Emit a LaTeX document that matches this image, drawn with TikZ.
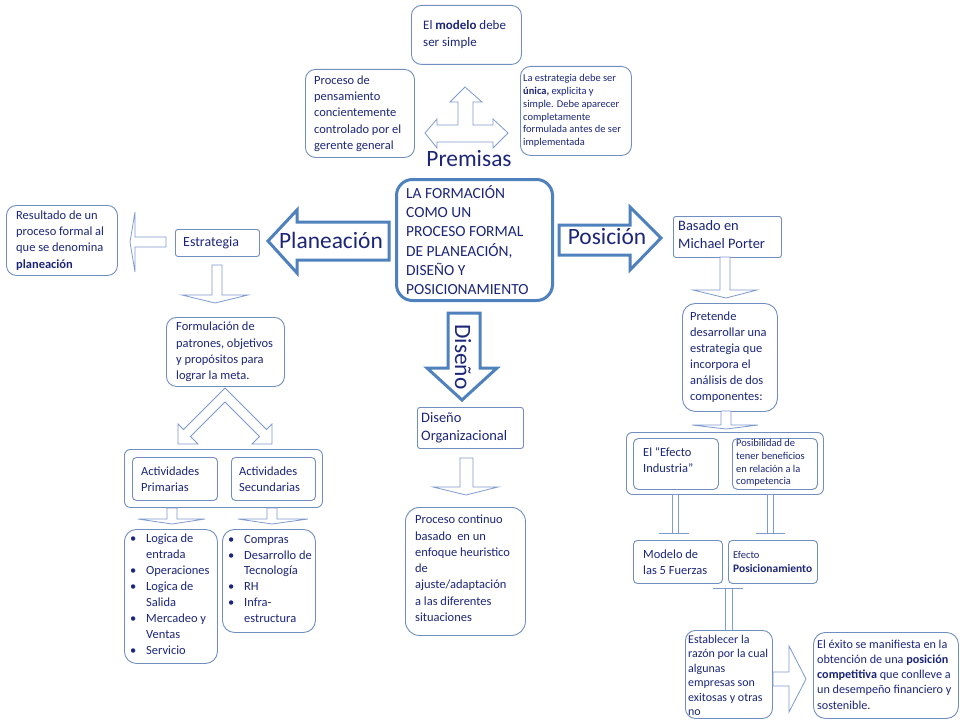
\documentclass[tikz,border=0pt]{standalone}
\usepackage{fontspec}
\setmainfont{Carlito}
\definecolor{navy}{RGB}{28,38,120}
\definecolor{boxc}{RGB}{112,142,192}
\definecolor{bigc}{RGB}{79,129,189}
\definecolor{arrc}{RGB}{125,155,205}
\newcommand\lbul{\makebox[16bp][l]{\textbullet}}
\newcommand\lind{\hspace*{16bp}}
\tikzset{
 bx/.style={draw=boxc, line width=0.9bp, fill=white, inner sep=0, anchor=north west, rounded corners=#1},
 bx/.default=10bp,
 tx/.style={text=navy, align=left, inner sep=0, anchor=west},
 fs/.style 2 args={font=\fontsize{#1}{#2}\selectfont},
 blk/.style={draw=arrc, line width=0.8bp, fill=white, line join=miter},
 big/.style={draw=bigc, line width=3bp, fill=white, line join=miter},
 bigtx/.style={text=navy, inner sep=0, font=\fontsize{23.5}{28}\selectfont},
}
\begin{document}
\begin{tikzpicture}[x=1bp,y=-1bp]
\useasboundingbox (0,0) rectangle (960,720);
\fill[white] (0,0) rectangle (960,720);

% ---------- Premisas ----------
\node[bx, minimum width=110bp, minimum height=59bp] (modelo) at (411,5) {};
\node[tx, fs={13}{17}] (modelo-t) at ([xshift=12bp]modelo.west) {El \textbf{modelo} debe\\ser simple};

\node[bx, minimum width=109bp, minimum height=88bp] (pensam) at (305,69) {};
\node[tx, fs={12.5}{16.4}] (pensam-t) at ([xshift=9bp]pensam.west) {Proceso de\\pensamiento\\concientemente\\controlado por el\\gerente general};

\node[bx, minimum width=111bp, minimum height=89bp] (unica) at (520,66) {};
\node[tx, fs={10.5}{12.8}] (unica-t) at ([xshift=3bp]unica.west) {La estrategia debe ser\\\textbf{única,} explicita y\\simple. Debe aparecer\\completamente\\formulada antes de ser\\implementada};

\draw[blk] (425,133) -- (437,119) -- (437,125) -- (458,125) -- (458,102) -- (450,102) -- (465,87)
  -- (482,102) -- (473,102) -- (473,125) -- (493,125) -- (493,119) -- (508,133) -- (493,148)
  -- (493,142) -- (437,142) -- (437,148) -- cycle;
\node[bigtx] (premisas) at (469,159) {Premisas};

% ---------- centre ----------
\node[draw=bigc, line width=3bp, fill=white, inner sep=0, anchor=north west, rounded corners=16bp,
  minimum width=156bp, minimum height=121bp] (centro) at (395,178) {};
\node[tx, fs={15.5}{19.4}] (centro-t) at ([xshift=11bp]centro.west) {LA FORMACIÓN\\COMO UN\\PROCESO FORMAL\\DE PLANEACIÓN,\\DISEÑO Y\\POSICIONAMIENTO};

% big arrows
\draw[big] (268,241) -- (297,210) -- (297,222) -- (389,222) -- (389,260) -- (297,260) -- (297,273) -- cycle;
\node[bigtx] (planeacion) at (331,240) {Planeación};

\draw[big] (559,225) -- (630,225) -- (630,207) -- (661,238) -- (630,270) -- (630,255) -- (559,255) -- cycle;
\node[bigtx] (posicion) at (607,237) {Posición};

\draw[big] (448,313) -- (480,313) -- (480,368) -- (497,368) -- (462,400) -- (427,368) -- (448,368) -- cycle;
\node[bigtx, rotate=-90] (diseno) at (463,357) {Diseño};

% ---------- Planeación branch ----------
\node[bx=2.5bp, minimum width=84bp, minimum height=27bp] (estrat) at (175,229) {};
\node[tx, fs={14}{17}] (estrat-t) at ([xshift=8bp]estrat.west) {Estrategia};

\draw[blk] (130,242) -- (135,212) -- (135,237) -- (166,237) -- (166,247) -- (135,247) -- (135,272) -- cycle;

\node[bx, minimum width=111bp, minimum height=70bp] (result) at (6,205) {};
\node[tx, fs={12.5}{16.3}] (result-t) at ([xshift=10bp]result.west) {Resultado de un\\proceso formal al\\que se denomina\\\textbf{planeación}};

\draw[blk] (212,265) -- (222,265) -- (222,295) -- (248,295) -- (215,303) -- (182,295) -- (212,295) -- cycle;

\node[bx, minimum width=118bp, minimum height=69bp] (formul) at (166,317) {};
\node[tx, fs={12.5}{16.2}] (formul-t) at ([xshift=10bp]formul.west) {Formulación de\\patrones, objetivos\\y propósitos para\\lograr la meta.};

\draw[blk] (225,388) -- (266.5,429.5) -- (272,424) -- (272,444) -- (252,444) -- (259.5,436.5) -- (225,402)
  -- (190.5,436.5) -- (198,444) -- (178,444) -- (178,424) -- (183.5,429.5) -- cycle;

\node[bx=6bp, minimum width=198bp, minimum height=58bp] (activ) at (124,449) {};
\node[bx=4bp, minimum width=85bp, minimum height=43bp] (prim) at (132,457) {};
\node[tx, fs={12.5}{16.5}] (prim-t) at ([xshift=9bp]prim.west) {Actividades\\Primarias};
\node[bx=4bp, minimum width=84bp, minimum height=43bp] (secu) at (231,457) {};
\node[tx, fs={12.5}{16.5}] (secu-t) at ([xshift=8bp]secu.west) {Actividades\\Secundarias};

\draw[blk] (167,508) -- (177,508) -- (177,519) -- (205,519) -- (172,524) -- (138,519) -- (167,519) -- cycle;
\draw[blk] (267,508) -- (277,508) -- (277,519) -- (308,519) -- (272,524) -- (238,519) -- (267,519) -- cycle;

\node[bx=12bp, minimum width=93bp, minimum height=134bp] (lista1) at (124,529) {};
\node[tx, fs={12.5}{16}] (lista1-t) at ([xshift=6bp, yshift=2bp]lista1.west) {\lbul Logica de\\\lind entrada\\\lbul Operaciones\\\lbul Logica de\\\lind Salida\\\lbul Mercadeo y\\\lind Ventas\\\lbul Servicio};

\node[bx=12bp, minimum width=93bp, minimum height=103bp] (lista2) at (222,529) {};
\node[tx, fs={12.5}{16}] (lista2-t) at ([xshift=6bp, yshift=2bp]lista2.west) {\lbul Compras\\\lbul Desarrollo de\\\lind Tecnología\\\lbul RH\\\lbul Infra-\\\lind estructura};

% ---------- Diseño branch ----------
\node[bx=2.5bp, minimum width=106bp, minimum height=41bp] (disorg) at (417,407) {};
\node[tx, fs={14.5}{18.5}] (disorg-t) at ([xshift=4bp]disorg.west) {Diseño\\Organizacional};

\draw[blk] (460,458) -- (473,458) -- (473,487) -- (498,487) -- (466,495) -- (433,487) -- (460,487) -- cycle;

\node[bx=14bp, minimum width=120bp, minimum height=128bp] (procont) at (405,507) {};
\node[tx, fs={12.5}{16.3}] (procont-t) at ([xshift=10bp, yshift=3bp]procont.west) {Proceso continuo\\basado\ \ en un\\enfoque heuristico\\de\\ajuste/adaptación\\a las diferentes\\situaciones};

% ---------- Posición branch ----------
\node[bx=2.5bp, minimum width=108bp, minimum height=41bp] (porter) at (673,216) {};
\node[tx, fs={14.5}{18}] (porter-t) at ([xshift=5bp, yshift=2bp]porter.west) {Basado en\\Michael Porter};

\draw[blk] (720,257) -- (730,257) -- (730,290) -- (757,290) -- (726,298) -- (693,290) -- (720,290) -- cycle;

\node[bx=13bp, minimum width=95bp, minimum height=108bp] (pretende) at (682,303) {};
\node[tx, fs={12.5}{16}] (pretende-t) at ([xshift=8bp]pretende.west) {Pretende\\desarrollar una\\estrategia que\\incorpora el\\análisis de dos\\componentes:};

\draw[blk] (721,411) -- (731,411) -- (731,425) -- (758,425) -- (726,429) -- (692,425) -- (721,425) -- cycle;

\node[bx=6bp, minimum width=197bp, minimum height=62bp] (compon) at (626,432) {};
\node[bx=5bp, minimum width=85bp, minimum height=51bp] (industria) at (633,438) {};
\node[tx, fs={12.5}{15.5}] (industria-t) at ([xshift=10bp, yshift=4bp]industria.west) {El “Efecto\\Industria”};
\node[bx=5bp, minimum width=85bp, minimum height=51bp] (posib) at (732,438) {};
\node[tx, fs={10.5}{12.7}] (posib-t) at ([xshift=4bp, yshift=1bp]posib.west) {Posibilidad de\\tener beneficios\\en relación a la\\competencia};

\draw[blk] (672,494) rectangle (678,533);
\draw[arrc, line width=0.8bp] (659,533) -- (689,533);
\draw[blk] (767,494) rectangle (773,533);
\draw[arrc, line width=0.8bp] (756,533) -- (785,533);

\node[bx=4bp, minimum width=89bp, minimum height=43bp] (fuerzas) at (633,540) {};
\node[tx, fs={12.5}{16}] (fuerzas-t) at ([xshift=10bp]fuerzas.west) {Modelo de\\las 5 Fuerzas};
\node[bx=4bp, minimum width=89bp, minimum height=43bp] (efpos) at (728,540) {};
\node[tx, fs={10.5}{15}] (efpos-t) at ([xshift=5bp]efpos.west) {Efecto\\{\fontsize{11.5}{15}\selectfont\textbf{Posicionamiento}}};

\draw[blk] (725,588) rectangle (732,630);
\draw[arrc, line width=0.8bp] (713,588) -- (743,588);

\node[bx=10bp, minimum width=87bp, minimum height=88bp] (establ) at (685,630) {};
\node[tx, fs={12}{14.6}] (establ-t) at ([xshift=3bp, yshift=-1bp]establ.west) {Establecer la\\razón por la cual\\algunas\\empresas son\\exitosas y otras\\no};

\draw[blk] (773,672) -- (789,672) -- (789,646) -- (806,679) -- (789,712) -- (789,686) -- (773,686) -- cycle;

\node[bx=12bp, minimum width=145bp, minimum height=86bp] (exito) at (813,632) {};
\node[tx, fs={12.2}{15.3}] (exito-t) at ([xshift=4bp, yshift=1bp]exito.west) {El éxito se manifiesta en la\\obtención de una \textbf{posición}\\\textbf{competitiva} que conlleve a\\un desempeño financiero y\\sostenible.};

\end{tikzpicture}
\end{document}
